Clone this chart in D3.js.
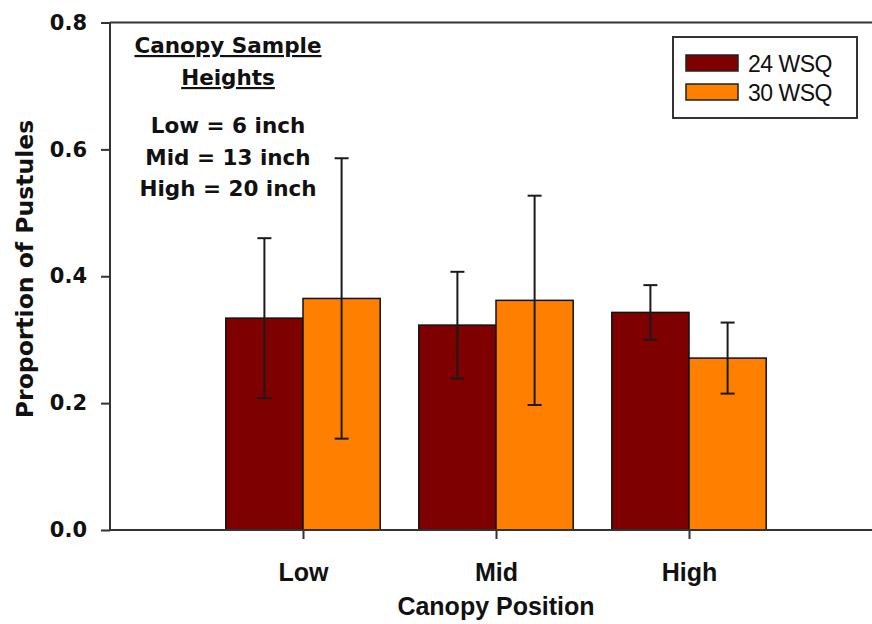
<!DOCTYPE html>
<html>
<head>
<meta charset="utf-8">
<script src="https://cdn.jsdelivr.net/npm/d3@7"></script>
<style>
  body { margin: 0; background: #fff; }
  svg { display: block; }
</style>
</head>
<body>
<script>
// values (means and +/- error)
const categories = ['Low', 'Mid', 'High'];
const wsq24 = [0.334, 0.323, 0.343];
const wsq24Err = [0.126, 0.084, 0.043];
const wsq30 = [0.365, 0.362, 0.271];
const wsq30Err = [0.221, 0.165, 0.056];
const yTicks = [0, 0.2, 0.4, 0.6, 0.8];
const seriesNames = ['24 WSQ', '30 WSQ'];
const notes = ['Low = 6 inch', 'Mid = 13 inch', 'High = 20 inch'];

const colours = ['#7f0000', '#ff8000'];
const series = [
  { name: seriesNames[0], values: wsq24, err: wsq24Err, side: -1, colour: colours[0] },
  { name: seriesNames[1], values: wsq30, err: wsq30Err, side: 0, colour: colours[1] },
];

const W = 872, H = 624;
const svg = d3.select('body')
  .append('svg')
  .attr('width', W)
  .attr('height', H);

const plotLeft = 110, plotTop = 22.5, plotBottom = 530;

const x = d3.scaleLinear()
  .domain([0, 4])
  .range([plotLeft, 882]);

const y = d3.scaleLinear()
  .domain([0, 0.8])
  .range([plotBottom, plotTop]);

const barW = x(0.4) - x(0);
const axisCol = '#333';

// bars
series.forEach(s => {
  svg.append('g').selectAll('rect')
    .data(s.values)
    .enter()
      .append('rect')
      .attr('x', (d, i) => x(i + 1) + s.side * barW)
      .attr('y', d => y(d))
      .attr('width', barW)
      .attr('height', d => y(0) - y(d))
      .attr('fill', s.colour)
      .attr('stroke', '#111')
      .attr('stroke-width', 1.5);
});

// error bars
series.forEach(s => {
  const g = svg.append('g')
    .attr('stroke', '#1a1a1a')
    .attr('stroke-width', 2);
  s.values.forEach((v, i) => {
    const cx = x(i + 1) + s.side * barW + barW / 2;
    const hi = y(v + s.err[i]), lo = y(v - s.err[i]);
    g.append('line').attr('x1', cx).attr('x2', cx).attr('y1', hi).attr('y2', lo);
    g.append('line').attr('x1', cx - 7).attr('x2', cx + 7).attr('y1', hi).attr('y2', hi);
    g.append('line').attr('x1', cx - 7).attr('x2', cx + 7).attr('y1', lo).attr('y2', lo);
  });
});

// frame lines
svg.append('line')
  .attr('x1', plotLeft).attr('x2', W)
  .attr('y1', y(0.8)).attr('y2', y(0.8))
  .attr('stroke', axisCol).attr('stroke-width', 2);
svg.append('line')
  .attr('x1', plotLeft).attr('x2', W)
  .attr('y1', y(0)).attr('y2', y(0))
  .attr('stroke', axisCol).attr('stroke-width', 2);
svg.append('line')
  .attr('x1', plotLeft).attr('x2', plotLeft)
  .attr('y1', y(0.8)).attr('y2', y(0))
  .attr('stroke', axisCol).attr('stroke-width', 2);

// y axis
const yAxis = svg.append('g')
  .attr('transform', `translate(${plotLeft},0)`)
  .call(d3.axisLeft(y).tickValues(yTicks).tickFormat(d3.format('.1f')).tickSize(9).tickPadding(14));
yAxis.select('.domain').remove();
yAxis.selectAll('line').attr('stroke', axisCol).attr('stroke-width', 2);
yAxis.selectAll('text')
  .attr('fill', '#111')
  .style('font-family', 'DejaVu Sans')
  .style('font-weight', 'bold')
  .style('font-size', '21px');

// x axis
const xAxis = svg.append('g')
  .attr('transform', `translate(0,${plotBottom})`)
  .call(d3.axisBottom(x).tickValues([1, 2, 3]).tickFormat(d => categories[d - 1]).tickSize(9).tickPadding(24));
xAxis.select('.domain').remove();
xAxis.selectAll('line').attr('stroke', axisCol).attr('stroke-width', 2);
xAxis.selectAll('text')
  .attr('fill', '#111')
  .style('font-family', 'Liberation Sans')
  .style('font-weight', 'bold')
  .style('font-size', '25px');

// axis titles
svg.append('text')
  .attr('x', x(2))
  .attr('y', 615)
  .attr('text-anchor', 'middle')
  .style('font-family', 'Liberation Sans')
  .style('font-weight', 'bold')
  .style('font-size', '25px')
  .attr('fill', '#111')
  .text('Canopy Position');

svg.append('text')
  .attr('transform', `translate(33,${(115 + 423) / 2}) rotate(-90)`)
  .attr('text-anchor', 'middle')
  .style('font-family', 'DejaVu Sans')
  .style('font-weight', 'bold')
  .style('font-size', '23.5px')
  .attr('fill', '#111')
  .text('Proportion of Pustules');

// annotation
const note = svg.append('g')
  .attr('text-anchor', 'middle')
  .style('font-family', 'DejaVu Sans')
  .style('font-weight', 'bold')
  .style('font-size', '21.5px')
  .attr('fill', '#111');
note.append('text').attr('x', 228).attr('y', 53)
  .style('text-decoration', 'underline').text('Canopy Sample');
note.append('text').attr('x', 228).attr('y', 85)
  .style('text-decoration', 'underline').text('Heights');
notes.forEach((t, i) => {
  note.append('text').attr('x', 228).attr('y', 133 + i * 31.5).text(t);
});

// legend
const lg = svg.append('g').attr('transform', 'translate(673,37)');
lg.append('rect')
  .attr('width', 184).attr('height', 81)
  .attr('fill', '#fff').attr('stroke', axisCol).attr('stroke-width', 2);
series.forEach((s, i) => {
  lg.append('rect')
    .attr('x', 13).attr('y', 18 + i * 29)
    .attr('width', 52).attr('height', 16)
    .attr('fill', s.colour).attr('stroke', '#222').attr('stroke-width', 1.5);
  lg.append('text')
    .attr('x', 75).attr('y', 35 + i * 29)
    .style('font-family', 'Liberation Sans')
    .style('font-size', '23px')
    .style('letter-spacing', '-0.5px')
    .attr('fill', '#111')
    .text(s.name);
});
</script>
</body>
</html>
